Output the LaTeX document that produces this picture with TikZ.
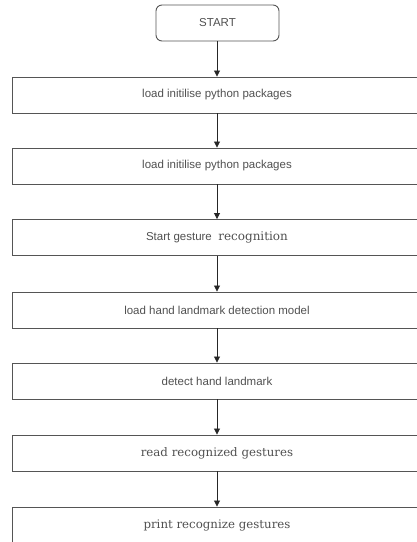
\documentclass[tikz,border=0pt]{standalone}
\usepackage{fontspec}
\setmainfont{Liberation Sans}
\newfontfamily\serifB{DejaVu Serif}
\usetikzlibrary{arrows.meta}
\definecolor{linegray}{HTML}{555555}
\definecolor{textgray}{HTML}{505050}
\tikzset{
  stepbox/.style={draw=linegray, line width=0.9pt, minimum width=410pt, minimum height=36pt, inner sep=0pt, text=textgray, font=\fontsize{11.5}{13}\selectfont},
  startbox/.style={draw=linegray, line width=0.9pt, rounded corners=6pt, minimum width=123pt, minimum height=36pt, inner sep=0pt, text=textgray, font=\fontsize{11.5}{13}\selectfont},
  flow/.style={draw=black!85, line width=0.8pt, -{Triangle[length=6pt,width=6pt]}}
}
\begin{document}
\begin{tikzpicture}[x=1pt,y=1pt]
\useasboundingbox (0,0) rectangle (417,-542);
\clip (0,0) rectangle (417,-542);
\node[startbox] (s) at (217.5,-23) {START};
\node[stepbox] (b1) at (217,-95) {load initilise python packages};
\node[stepbox] (b2) at (217,-166) {load initilise python packages};
\node[stepbox] (b3) at (217,-237.5) {Start gesture~~{\serifB\fontsize{12}{14}\selectfont recognition}};
\node[stepbox] (b4) at (217,-310) {load hand landmark detection model};
\node[stepbox] (b5) at (217,-381) {detect hand landmark};
\node[stepbox] (b6) at (217,-453) {\serifB\fontsize{11.8}{14}\selectfont read recognized gestures};
\node[stepbox] (b7) at (217,-525) {\serifB\fontsize{11.8}{14}\selectfont print recognize gestures};
\draw[flow] (s.south -| b1.north) -- (b1.north);
\draw[flow] (b1) -- (b2);
\draw[flow] (b2) -- (b3);
\draw[flow] (b3) -- (b4);
\draw[flow] (b4) -- (b5);
\draw[flow] (b5) -- (b6);
\draw[flow] (b6) -- (b7);
\end{tikzpicture}
\end{document}
